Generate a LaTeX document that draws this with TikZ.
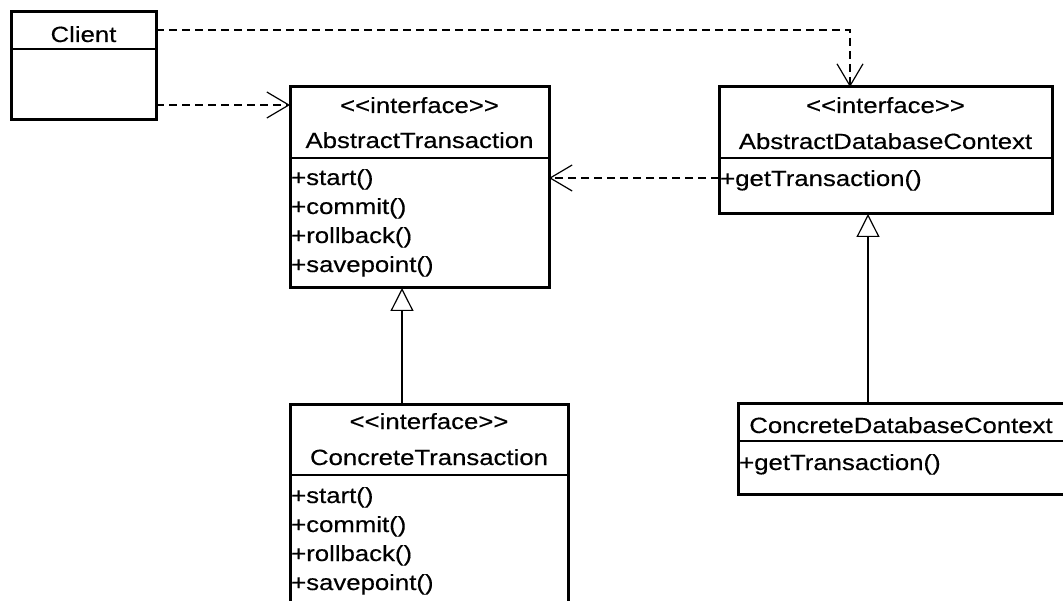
\documentclass[tikz,border=0pt]{standalone}
\usepackage{fontspec}
\setmainfont{Liberation Sans}[FakeStretch=1.17,FakeBold=0.35,Ligatures=TeXOff]
\usetikzlibrary{arrows.meta,calc}
\begin{document}
\begin{tikzpicture}[x=1pt,y=-1pt,
  box/.style={draw, line width=3pt, inner sep=0pt, outer sep=0pt, anchor=north west},
  sep/.style={line width=1.3pt},
  ttl/.style={anchor=base, inner sep=0pt, font=\fontsize{22}{29}\selectfont},
  mem/.style={anchor=base west, inner sep=0pt, font=\fontsize{22}{29}\selectfont},
  dep/.style={line width=1.2pt, dash pattern=on 8pt off 5pt,
    -{Straight Barb[length=22pt,width=26pt,line width=1.2pt]}},
  gen/.style={line width=1.2pt,
    -{Triangle[open,length=23pt,width=23pt,line width=1.2pt,fill=white]}}
]
\path[use as bounding box] (0,0) rectangle (1063,601);
\clip (0,0) rectangle (1063,601);
\fill[white] (0,0) rectangle (1063,601);

% boxes
\node[box, minimum width=145pt, minimum height=108pt] (client) at (11,12) {};
\node[box, minimum width=259pt, minimum height=201pt] (at) at (290,87) {};
\node[box, minimum width=333pt, minimum height=127pt] (adc) at (719,87) {};
\node[box, minimum width=278pt, minimum height=230pt] (ct) at (290,405) {};
\node[box, minimum width=326pt, minimum height=90pt] (cdc) at (738,404) {};

% Client
\node[ttl] (clientname) at ($(client.north)+(0,30)$) {Client};
\draw[sep] ($(client.north west)+(0,37)$) -- ($(client.north east)+(0,37)$);

% AbstractTransaction
\node[ttl] (atst) at ($(at.north)+(0,26)$) {<<interface>>};
\node[ttl] (atname) at ($(at.north)+(0,61)$) {AbstractTransaction};
\draw[sep] ($(at.north west)+(0,71)$) -- ($(at.north east)+(0,71)$);
\node[mem] (atm1) at ($(at.north west)+(1,98)$) {+start()};
\node[mem] (atm2) at ($(at.north west)+(1,127)$) {+commit()};
\node[mem] (atm3) at ($(at.north west)+(1,156)$) {+rollback()};
\node[mem] (atm4) at ($(at.north west)+(1,185)$) {+savepoint()};

% AbstractDatabaseContext
\node[ttl] (adcst) at ($(adc.north)+(0,26)$) {<<interface>>};
\node[ttl] (adcname) at ($(adc.north)+(0,62)$) {AbstractDatabaseContext};
\draw[sep] ($(adc.north west)+(0,71)$) -- ($(adc.north east)+(0,71)$);
\node[mem] (adcm1) at ($(adc.north west)+(1,99)$) {+getTransaction()};

% ConcreteTransaction
\node[ttl] (ctst) at ($(ct.north)+(0,24)$) {<<interface>>};
\node[ttl] (ctname) at ($(ct.north)+(0,60)$) {ConcreteTransaction};
\draw[sep] ($(ct.north west)+(0,70)$) -- ($(ct.north east)+(0,70)$);
\node[mem] (ctm1) at ($(ct.north west)+(1,98)$) {+start()};
\node[mem] (ctm2) at ($(ct.north west)+(1,127)$) {+commit()};
\node[mem] (ctm3) at ($(ct.north west)+(1,156)$) {+rollback()};
\node[mem] (ctm4) at ($(ct.north west)+(1,185)$) {+savepoint()};

% ConcreteDatabaseContext
\node[ttl] (cdcname) at ($(cdc.north)+(0,29)$) {ConcreteDatabaseContext};
\draw[sep] ($(cdc.north west)+(0,37)$) -- ($(cdc.north east)+(0,37)$);
\node[mem] (cdcm1) at ($(cdc.north west)+(1,66)$) {+getTransaction()};

% connectors
\coordinate (c1) at ($(client.north east)+(0,18)$);
\coordinate (adcin) at ($(adc.north west)+(131,0)$);
\draw[dep] (c1) -| (adcin);

\coordinate (c2) at ($(client.south east)+(0,-15)$);
\draw[dep] (c2) -- (at.west |- c2);

\coordinate (c3) at ($(adc.north west)+(0,91)$);
\draw[dep] (c3) -- (at.east |- c3);

\coordinate (g1) at ($(ct.north west)+(112,0)$);
\draw[gen] (g1) -- (at.south -| g1);

\coordinate (g2) at ($(cdc.north west)+(130,0)$);
\draw[gen] (g2) -- (adc.south -| g2);
\end{tikzpicture}
\end{document}
